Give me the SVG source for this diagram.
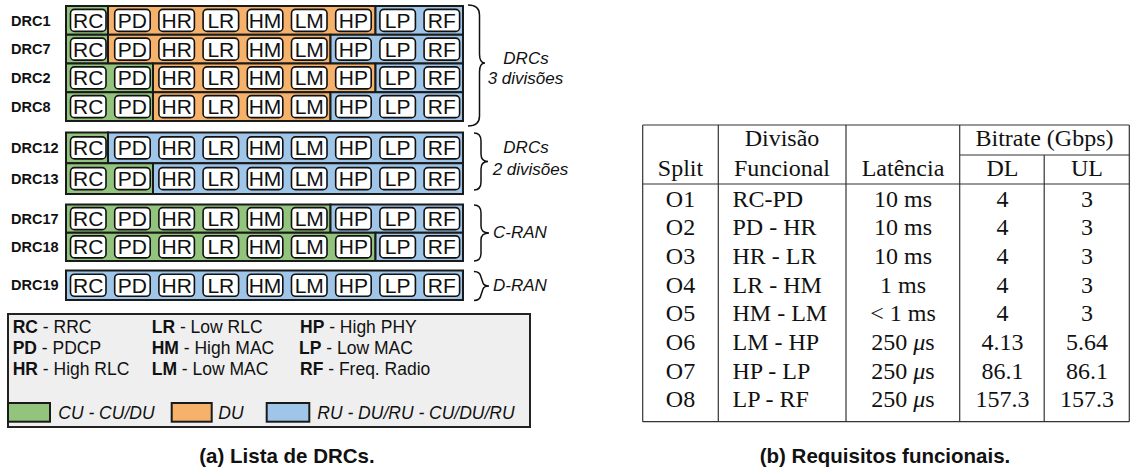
<svg xmlns="http://www.w3.org/2000/svg" width="1131" height="472" viewBox="0 0 1131 472">
<style>
.seg{stroke:#1a1a1a;stroke-width:2}
.g{fill:#93c47d}.o{fill:#f6b26b}.b{fill:#9fc5e8}
.m{fill:#fff;stroke:#111;stroke-width:1.6}
.mt{font-family:"Liberation Sans",Arial,sans-serif;font-size:21px;text-anchor:middle;fill:#111}
.lbl{font-family:"Liberation Sans",Arial,sans-serif;font-size:14.5px;font-weight:bold;fill:#111}
.brace{fill:none;stroke:#111;stroke-width:1.5}
.bt{font-family:"Liberation Sans",Arial,sans-serif;font-size:17px;font-style:italic;fill:#111}
.lg{font-family:"Liberation Sans",Arial,sans-serif;font-size:17.5px;fill:#111}
.lgi{font-family:"Liberation Sans",Arial,sans-serif;font-size:17.5px;font-style:italic;fill:#111}
.tb{font-family:"Liberation Serif","Times New Roman",serif;font-size:24px;fill:#111}
.c{text-anchor:middle}
.tl{stroke:#333;stroke-width:1.2;fill:none}
.cap{font-family:"Liberation Sans",Arial,sans-serif;font-size:20.5px;font-weight:bold;text-anchor:middle;fill:#111}
</style>

<!-- DRC rows -->
<g id="drc1" transform="translate(0,20.375)">
<text class="lbl" x="11" y="5.2">DRC1</text>
<rect class="seg g" x="66" y="-14.375" width="42" height="28.75"/>
<rect class="seg o" x="108" y="-14.375" width="267.5" height="28.75"/>
<rect class="seg b" x="375.5" y="-14.375" width="87.5" height="28.75"/>
<rect class="m" x="70.5" y="-11" width="35.5" height="22" rx="4"/><text class="mt" x="88.25" y="7.5">RC</text>
<rect class="m" x="114.7" y="-11" width="35.5" height="22" rx="4"/><text class="mt" x="132.45" y="7.5">PD</text>
<rect class="m" x="158.9" y="-11" width="35.5" height="22" rx="4"/><text class="mt" x="176.65" y="7.5">HR</text>
<rect class="m" x="203.1" y="-11" width="35.5" height="22" rx="4"/><text class="mt" x="220.85" y="7.5">LR</text>
<rect class="m" x="247.3" y="-11" width="35.5" height="22" rx="4"/><text class="mt" x="265.05" y="7.5">HM</text>
<rect class="m" x="291.5" y="-11" width="35.5" height="22" rx="4"/><text class="mt" x="309.25" y="7.5">LM</text>
<rect class="m" x="335.7" y="-11" width="35.5" height="22" rx="4"/><text class="mt" x="353.45" y="7.5">HP</text>
<rect class="m" x="379.9" y="-11" width="35.5" height="22" rx="4"/><text class="mt" x="397.65" y="7.5">LP</text>
<rect class="m" x="424.1" y="-11" width="35.5" height="22" rx="4"/><text class="mt" x="441.85" y="7.5">RF</text>
</g>
<g id="drc7" transform="translate(0,49.125)">
<text class="lbl" x="11" y="5.2">DRC7</text>
<rect class="seg g" x="66" y="-14.375" width="42" height="28.75"/>
<rect class="seg o" x="108" y="-14.375" width="222.5" height="28.75"/>
<rect class="seg b" x="330.5" y="-14.375" width="132.5" height="28.75"/>
<rect class="m" x="70.5" y="-11" width="35.5" height="22" rx="4"/><text class="mt" x="88.25" y="7.5">RC</text>
<rect class="m" x="114.7" y="-11" width="35.5" height="22" rx="4"/><text class="mt" x="132.45" y="7.5">PD</text>
<rect class="m" x="158.9" y="-11" width="35.5" height="22" rx="4"/><text class="mt" x="176.65" y="7.5">HR</text>
<rect class="m" x="203.1" y="-11" width="35.5" height="22" rx="4"/><text class="mt" x="220.85" y="7.5">LR</text>
<rect class="m" x="247.3" y="-11" width="35.5" height="22" rx="4"/><text class="mt" x="265.05" y="7.5">HM</text>
<rect class="m" x="291.5" y="-11" width="35.5" height="22" rx="4"/><text class="mt" x="309.25" y="7.5">LM</text>
<rect class="m" x="335.7" y="-11" width="35.5" height="22" rx="4"/><text class="mt" x="353.45" y="7.5">HP</text>
<rect class="m" x="379.9" y="-11" width="35.5" height="22" rx="4"/><text class="mt" x="397.65" y="7.5">LP</text>
<rect class="m" x="424.1" y="-11" width="35.5" height="22" rx="4"/><text class="mt" x="441.85" y="7.5">RF</text>
</g>
<g id="drc2" transform="translate(0,77.875)">
<text class="lbl" x="11" y="5.2">DRC2</text>
<rect class="seg g" x="66" y="-14.375" width="87" height="28.75"/>
<rect class="seg o" x="153" y="-14.375" width="222.5" height="28.75"/>
<rect class="seg b" x="375.5" y="-14.375" width="87.5" height="28.75"/>
<rect class="m" x="70.5" y="-11" width="35.5" height="22" rx="4"/><text class="mt" x="88.25" y="7.5">RC</text>
<rect class="m" x="114.7" y="-11" width="35.5" height="22" rx="4"/><text class="mt" x="132.45" y="7.5">PD</text>
<rect class="m" x="158.9" y="-11" width="35.5" height="22" rx="4"/><text class="mt" x="176.65" y="7.5">HR</text>
<rect class="m" x="203.1" y="-11" width="35.5" height="22" rx="4"/><text class="mt" x="220.85" y="7.5">LR</text>
<rect class="m" x="247.3" y="-11" width="35.5" height="22" rx="4"/><text class="mt" x="265.05" y="7.5">HM</text>
<rect class="m" x="291.5" y="-11" width="35.5" height="22" rx="4"/><text class="mt" x="309.25" y="7.5">LM</text>
<rect class="m" x="335.7" y="-11" width="35.5" height="22" rx="4"/><text class="mt" x="353.45" y="7.5">HP</text>
<rect class="m" x="379.9" y="-11" width="35.5" height="22" rx="4"/><text class="mt" x="397.65" y="7.5">LP</text>
<rect class="m" x="424.1" y="-11" width="35.5" height="22" rx="4"/><text class="mt" x="441.85" y="7.5">RF</text>
</g>
<g id="drc8" transform="translate(0,106.625)">
<text class="lbl" x="11" y="5.2">DRC8</text>
<rect class="seg g" x="66" y="-14.375" width="87" height="28.75"/>
<rect class="seg o" x="153" y="-14.375" width="177.5" height="28.75"/>
<rect class="seg b" x="330.5" y="-14.375" width="132.5" height="28.75"/>
<rect class="m" x="70.5" y="-11" width="35.5" height="22" rx="4"/><text class="mt" x="88.25" y="7.5">RC</text>
<rect class="m" x="114.7" y="-11" width="35.5" height="22" rx="4"/><text class="mt" x="132.45" y="7.5">PD</text>
<rect class="m" x="158.9" y="-11" width="35.5" height="22" rx="4"/><text class="mt" x="176.65" y="7.5">HR</text>
<rect class="m" x="203.1" y="-11" width="35.5" height="22" rx="4"/><text class="mt" x="220.85" y="7.5">LR</text>
<rect class="m" x="247.3" y="-11" width="35.5" height="22" rx="4"/><text class="mt" x="265.05" y="7.5">HM</text>
<rect class="m" x="291.5" y="-11" width="35.5" height="22" rx="4"/><text class="mt" x="309.25" y="7.5">LM</text>
<rect class="m" x="335.7" y="-11" width="35.5" height="22" rx="4"/><text class="mt" x="353.45" y="7.5">HP</text>
<rect class="m" x="379.9" y="-11" width="35.5" height="22" rx="4"/><text class="mt" x="397.65" y="7.5">LP</text>
<rect class="m" x="424.1" y="-11" width="35.5" height="22" rx="4"/><text class="mt" x="441.85" y="7.5">RF</text>
</g>
<g id="drc12" transform="translate(0,147.875)">
<text class="lbl" x="11" y="5.2">DRC12</text>
<rect class="seg g" x="66" y="-15.375" width="42" height="30.75"/>
<rect class="seg b" x="108" y="-15.375" width="355" height="30.75"/>
<rect class="m" x="70.5" y="-11" width="35.5" height="22" rx="4"/><text class="mt" x="88.25" y="7.5">RC</text>
<rect class="m" x="114.7" y="-11" width="35.5" height="22" rx="4"/><text class="mt" x="132.45" y="7.5">PD</text>
<rect class="m" x="158.9" y="-11" width="35.5" height="22" rx="4"/><text class="mt" x="176.65" y="7.5">HR</text>
<rect class="m" x="203.1" y="-11" width="35.5" height="22" rx="4"/><text class="mt" x="220.85" y="7.5">LR</text>
<rect class="m" x="247.3" y="-11" width="35.5" height="22" rx="4"/><text class="mt" x="265.05" y="7.5">HM</text>
<rect class="m" x="291.5" y="-11" width="35.5" height="22" rx="4"/><text class="mt" x="309.25" y="7.5">LM</text>
<rect class="m" x="335.7" y="-11" width="35.5" height="22" rx="4"/><text class="mt" x="353.45" y="7.5">HP</text>
<rect class="m" x="379.9" y="-11" width="35.5" height="22" rx="4"/><text class="mt" x="397.65" y="7.5">LP</text>
<rect class="m" x="424.1" y="-11" width="35.5" height="22" rx="4"/><text class="mt" x="441.85" y="7.5">RF</text>
</g>
<g id="drc13" transform="translate(0,178.625)">
<text class="lbl" x="11" y="5.2">DRC13</text>
<rect class="seg g" x="66" y="-15.375" width="87" height="30.75"/>
<rect class="seg b" x="153" y="-15.375" width="310" height="30.75"/>
<rect class="m" x="70.5" y="-11" width="35.5" height="22" rx="4"/><text class="mt" x="88.25" y="7.5">RC</text>
<rect class="m" x="114.7" y="-11" width="35.5" height="22" rx="4"/><text class="mt" x="132.45" y="7.5">PD</text>
<rect class="m" x="158.9" y="-11" width="35.5" height="22" rx="4"/><text class="mt" x="176.65" y="7.5">HR</text>
<rect class="m" x="203.1" y="-11" width="35.5" height="22" rx="4"/><text class="mt" x="220.85" y="7.5">LR</text>
<rect class="m" x="247.3" y="-11" width="35.5" height="22" rx="4"/><text class="mt" x="265.05" y="7.5">HM</text>
<rect class="m" x="291.5" y="-11" width="35.5" height="22" rx="4"/><text class="mt" x="309.25" y="7.5">LM</text>
<rect class="m" x="335.7" y="-11" width="35.5" height="22" rx="4"/><text class="mt" x="353.45" y="7.5">HP</text>
<rect class="m" x="379.9" y="-11" width="35.5" height="22" rx="4"/><text class="mt" x="397.65" y="7.5">LP</text>
<rect class="m" x="424.1" y="-11" width="35.5" height="22" rx="4"/><text class="mt" x="441.85" y="7.5">RF</text>
</g>
<g id="drc17" transform="translate(0,218.625)">
<text class="lbl" x="11" y="5.2">DRC17</text>
<rect class="seg g" x="66" y="-14.125" width="264.5" height="28.25"/>
<rect class="seg b" x="330.5" y="-14.125" width="132.5" height="28.25"/>
<rect class="m" x="70.5" y="-11" width="35.5" height="22" rx="4"/><text class="mt" x="88.25" y="7.5">RC</text>
<rect class="m" x="114.7" y="-11" width="35.5" height="22" rx="4"/><text class="mt" x="132.45" y="7.5">PD</text>
<rect class="m" x="158.9" y="-11" width="35.5" height="22" rx="4"/><text class="mt" x="176.65" y="7.5">HR</text>
<rect class="m" x="203.1" y="-11" width="35.5" height="22" rx="4"/><text class="mt" x="220.85" y="7.5">LR</text>
<rect class="m" x="247.3" y="-11" width="35.5" height="22" rx="4"/><text class="mt" x="265.05" y="7.5">HM</text>
<rect class="m" x="291.5" y="-11" width="35.5" height="22" rx="4"/><text class="mt" x="309.25" y="7.5">LM</text>
<rect class="m" x="335.7" y="-11" width="35.5" height="22" rx="4"/><text class="mt" x="353.45" y="7.5">HP</text>
<rect class="m" x="379.9" y="-11" width="35.5" height="22" rx="4"/><text class="mt" x="397.65" y="7.5">LP</text>
<rect class="m" x="424.1" y="-11" width="35.5" height="22" rx="4"/><text class="mt" x="441.85" y="7.5">RF</text>
</g>
<g id="drc18" transform="translate(0,246.875)">
<text class="lbl" x="11" y="5.2">DRC18</text>
<rect class="seg g" x="66" y="-14.125" width="309.5" height="28.25"/>
<rect class="seg b" x="375.5" y="-14.125" width="87.5" height="28.25"/>
<rect class="m" x="70.5" y="-11" width="35.5" height="22" rx="4"/><text class="mt" x="88.25" y="7.5">RC</text>
<rect class="m" x="114.7" y="-11" width="35.5" height="22" rx="4"/><text class="mt" x="132.45" y="7.5">PD</text>
<rect class="m" x="158.9" y="-11" width="35.5" height="22" rx="4"/><text class="mt" x="176.65" y="7.5">HR</text>
<rect class="m" x="203.1" y="-11" width="35.5" height="22" rx="4"/><text class="mt" x="220.85" y="7.5">LR</text>
<rect class="m" x="247.3" y="-11" width="35.5" height="22" rx="4"/><text class="mt" x="265.05" y="7.5">HM</text>
<rect class="m" x="291.5" y="-11" width="35.5" height="22" rx="4"/><text class="mt" x="309.25" y="7.5">LM</text>
<rect class="m" x="335.7" y="-11" width="35.5" height="22" rx="4"/><text class="mt" x="353.45" y="7.5">HP</text>
<rect class="m" x="379.9" y="-11" width="35.5" height="22" rx="4"/><text class="mt" x="397.65" y="7.5">LP</text>
<rect class="m" x="424.1" y="-11" width="35.5" height="22" rx="4"/><text class="mt" x="441.85" y="7.5">RF</text>
</g>
<g id="drc19" transform="translate(0,285.25)">
<text class="lbl" x="11" y="5.2">DRC19</text>
<rect class="seg b" x="66" y="-14.75" width="397" height="29.5"/>
<rect class="m" x="70.5" y="-11" width="35.5" height="22" rx="4"/><text class="mt" x="88.25" y="7.5">RC</text>
<rect class="m" x="114.7" y="-11" width="35.5" height="22" rx="4"/><text class="mt" x="132.45" y="7.5">PD</text>
<rect class="m" x="158.9" y="-11" width="35.5" height="22" rx="4"/><text class="mt" x="176.65" y="7.5">HR</text>
<rect class="m" x="203.1" y="-11" width="35.5" height="22" rx="4"/><text class="mt" x="220.85" y="7.5">LR</text>
<rect class="m" x="247.3" y="-11" width="35.5" height="22" rx="4"/><text class="mt" x="265.05" y="7.5">HM</text>
<rect class="m" x="291.5" y="-11" width="35.5" height="22" rx="4"/><text class="mt" x="309.25" y="7.5">LM</text>
<rect class="m" x="335.7" y="-11" width="35.5" height="22" rx="4"/><text class="mt" x="353.45" y="7.5">HP</text>
<rect class="m" x="379.9" y="-11" width="35.5" height="22" rx="4"/><text class="mt" x="397.65" y="7.5">LP</text>
<rect class="m" x="424.1" y="-11" width="35.5" height="22" rx="4"/><text class="mt" x="441.85" y="7.5">RF</text>
</g>

<!-- braces and group labels -->
<g id="brace-3div">
<path class="brace" d="M468,5 Q479.5,5 479.5,15 L479.5,54 Q479.5,63 485,63 Q479.5,63 479.5,72 L479.5,116 Q479.5,126 468,126"/>
<text class="bt" x="526" y="64" text-anchor="middle">DRCs</text>
<text class="bt" x="525.5" y="84" text-anchor="middle">3 divisões</text>
</g>
<g id="brace-2div">
<path class="brace" d="M474,133 Q481,133 481,141 L481,154 Q481,161.5 488,161.5 Q481,161.5 481,169 L481,182 Q481,190 474,190"/>
<text class="bt" x="526" y="153.3" text-anchor="middle">DRCs</text>
<text class="bt" x="530.5" y="175" text-anchor="middle">2 divisões</text>
</g>
<g id="brace-cran">
<path class="brace" d="M474,205 Q481,205 481,213 L481,226 Q481,233 489,233 Q481,233 481,240 L481,253 Q481,261 474,261"/>
<text class="bt" x="493" y="238.3">C-RAN</text>
</g>
<g id="brace-dran">
<path class="brace" d="M474,271.5 Q480,271.5 481,277 L483,283 Q484,286 489,286 Q484,286 483,289 L481,295 Q480,300.5 474,300.5"/>
<text class="bt" x="493" y="291">D-RAN</text>
</g>

<!-- legend -->
<g id="legend">
<rect x="8" y="314" width="522" height="113" fill="#efefef" stroke="#222" stroke-width="2"/>
<text class="lg" x="12.7" y="333.3"><tspan font-weight="bold">RC</tspan> - RRC</text>
<text class="lg" x="12.7" y="354"><tspan font-weight="bold">PD</tspan> - PDCP</text>
<text class="lg" x="12.7" y="375"><tspan font-weight="bold">HR</tspan> - High RLC</text>
<text class="lg" x="151.7" y="333.3"><tspan font-weight="bold">LR</tspan> - Low RLC</text>
<text class="lg" x="151.7" y="354"><tspan font-weight="bold">HM</tspan> - High MAC</text>
<text class="lg" x="151.7" y="375"><tspan font-weight="bold">LM</tspan> - Low MAC</text>
<text class="lg" x="300" y="333.3"><tspan font-weight="bold">HP</tspan> - High PHY</text>
<text class="lg" x="299" y="354"><tspan font-weight="bold">LP</tspan> - Low MAC</text>
<text class="lg" x="300" y="375"><tspan font-weight="bold">RF</tspan> - Freq. Radio</text>
<rect class="seg g" x="8" y="403" width="42" height="18.7"/>
<text class="lgi" x="58.3" y="419.3">CU - CU/DU</text>
<rect class="seg o" x="171.7" y="403" width="40" height="18.7"/>
<text class="lgi" x="218.3" y="419.3">DU</text>
<rect class="seg b" x="266.7" y="403" width="42.6" height="18.7"/>
<text class="lgi" x="317.3" y="419.3">RU - DU/RU - CU/DU/RU</text>
</g>

<text id="caption-a" class="cap" x="287" y="463">(a) Lista de DRCs.</text>

<!-- table -->
<g id="table">
<g class="tl">
<line x1="642.7" y1="125" x2="1129.3" y2="125"/>
<line x1="959.7" y1="155" x2="1129.3" y2="155"/>
<line x1="642.7" y1="184" x2="1129.3" y2="184"/>
<line x1="642.7" y1="421.7" x2="1129.3" y2="421.7"/>
<line x1="642.7" y1="125" x2="642.7" y2="421.7"/>
<line x1="718.3" y1="125" x2="718.3" y2="421.7"/>
<line x1="846" y1="125" x2="846" y2="421.7"/>
<line x1="959.7" y1="125" x2="959.7" y2="421.7"/>
<line x1="1044.2" y1="155" x2="1044.2" y2="421.7"/>
<line x1="1129.3" y1="125" x2="1129.3" y2="421.7"/>
</g>
<text class="tb c" x="782" y="146">Divisão</text>
<text class="tb c" x="1044.5" y="146">Bitrate (Gbps)</text>
<text class="tb c" x="680.5" y="176">Split</text>
<text class="tb c" x="782" y="176">Funcional</text>
<text class="tb c" x="903" y="176">Latência</text>
<text class="tb c" x="1002.5" y="176">DL</text>
<text class="tb c" x="1087" y="176">UL</text>

<text class="tb c" x="680.5" y="206.7">O1</text><text class="tb" x="732.5" y="206.7">RC-PD</text><text class="tb c" x="903" y="206.7">10 ms</text><text class="tb c" x="1002.5" y="206.7">4</text><text class="tb c" x="1087" y="206.7">3</text>
<text class="tb c" x="680.5" y="235.4">O2</text><text class="tb" x="732.5" y="235.4">PD - HR</text><text class="tb c" x="903" y="235.4">10 ms</text><text class="tb c" x="1002.5" y="235.4">4</text><text class="tb c" x="1087" y="235.4">3</text>
<text class="tb c" x="680.5" y="264">O3</text><text class="tb" x="732.5" y="264">HR - LR</text><text class="tb c" x="903" y="264">10 ms</text><text class="tb c" x="1002.5" y="264">4</text><text class="tb c" x="1087" y="264">3</text>
<text class="tb c" x="680.5" y="292.7">O4</text><text class="tb" x="732.5" y="292.7">LR - HM</text><text class="tb c" x="903" y="292.7">1 ms</text><text class="tb c" x="1002.5" y="292.7">4</text><text class="tb c" x="1087" y="292.7">3</text>
<text class="tb c" x="680.5" y="321.3">O5</text><text class="tb" x="732.5" y="321.3">HM - LM</text><text class="tb c" x="903" y="321.3">&lt; 1 ms</text><text class="tb c" x="1002.5" y="321.3">4</text><text class="tb c" x="1087" y="321.3">3</text>
<text class="tb c" x="680.5" y="350">O6</text><text class="tb" x="732.5" y="350">LM - HP</text><text class="tb c" x="903" y="350">250 <tspan font-style="italic">μ</tspan>s</text><text class="tb c" x="1002.5" y="350">4.13</text><text class="tb c" x="1087" y="350">5.64</text>
<text class="tb c" x="680.5" y="378.7">O7</text><text class="tb" x="732.5" y="378.7">HP - LP</text><text class="tb c" x="903" y="378.7">250 <tspan font-style="italic">μ</tspan>s</text><text class="tb c" x="1002.5" y="378.7">86.1</text><text class="tb c" x="1087" y="378.7">86.1</text>
<text class="tb c" x="680.5" y="407.3">O8</text><text class="tb" x="732.5" y="407.3">LP - RF</text><text class="tb c" x="903" y="407.3">250 <tspan font-style="italic">μ</tspan>s</text><text class="tb c" x="1002.5" y="407.3">157.3</text><text class="tb c" x="1087" y="407.3">157.3</text>
</g>

<text id="caption-b" class="cap" x="885" y="463">(b) Requisitos funcionais.</text>
</svg>
